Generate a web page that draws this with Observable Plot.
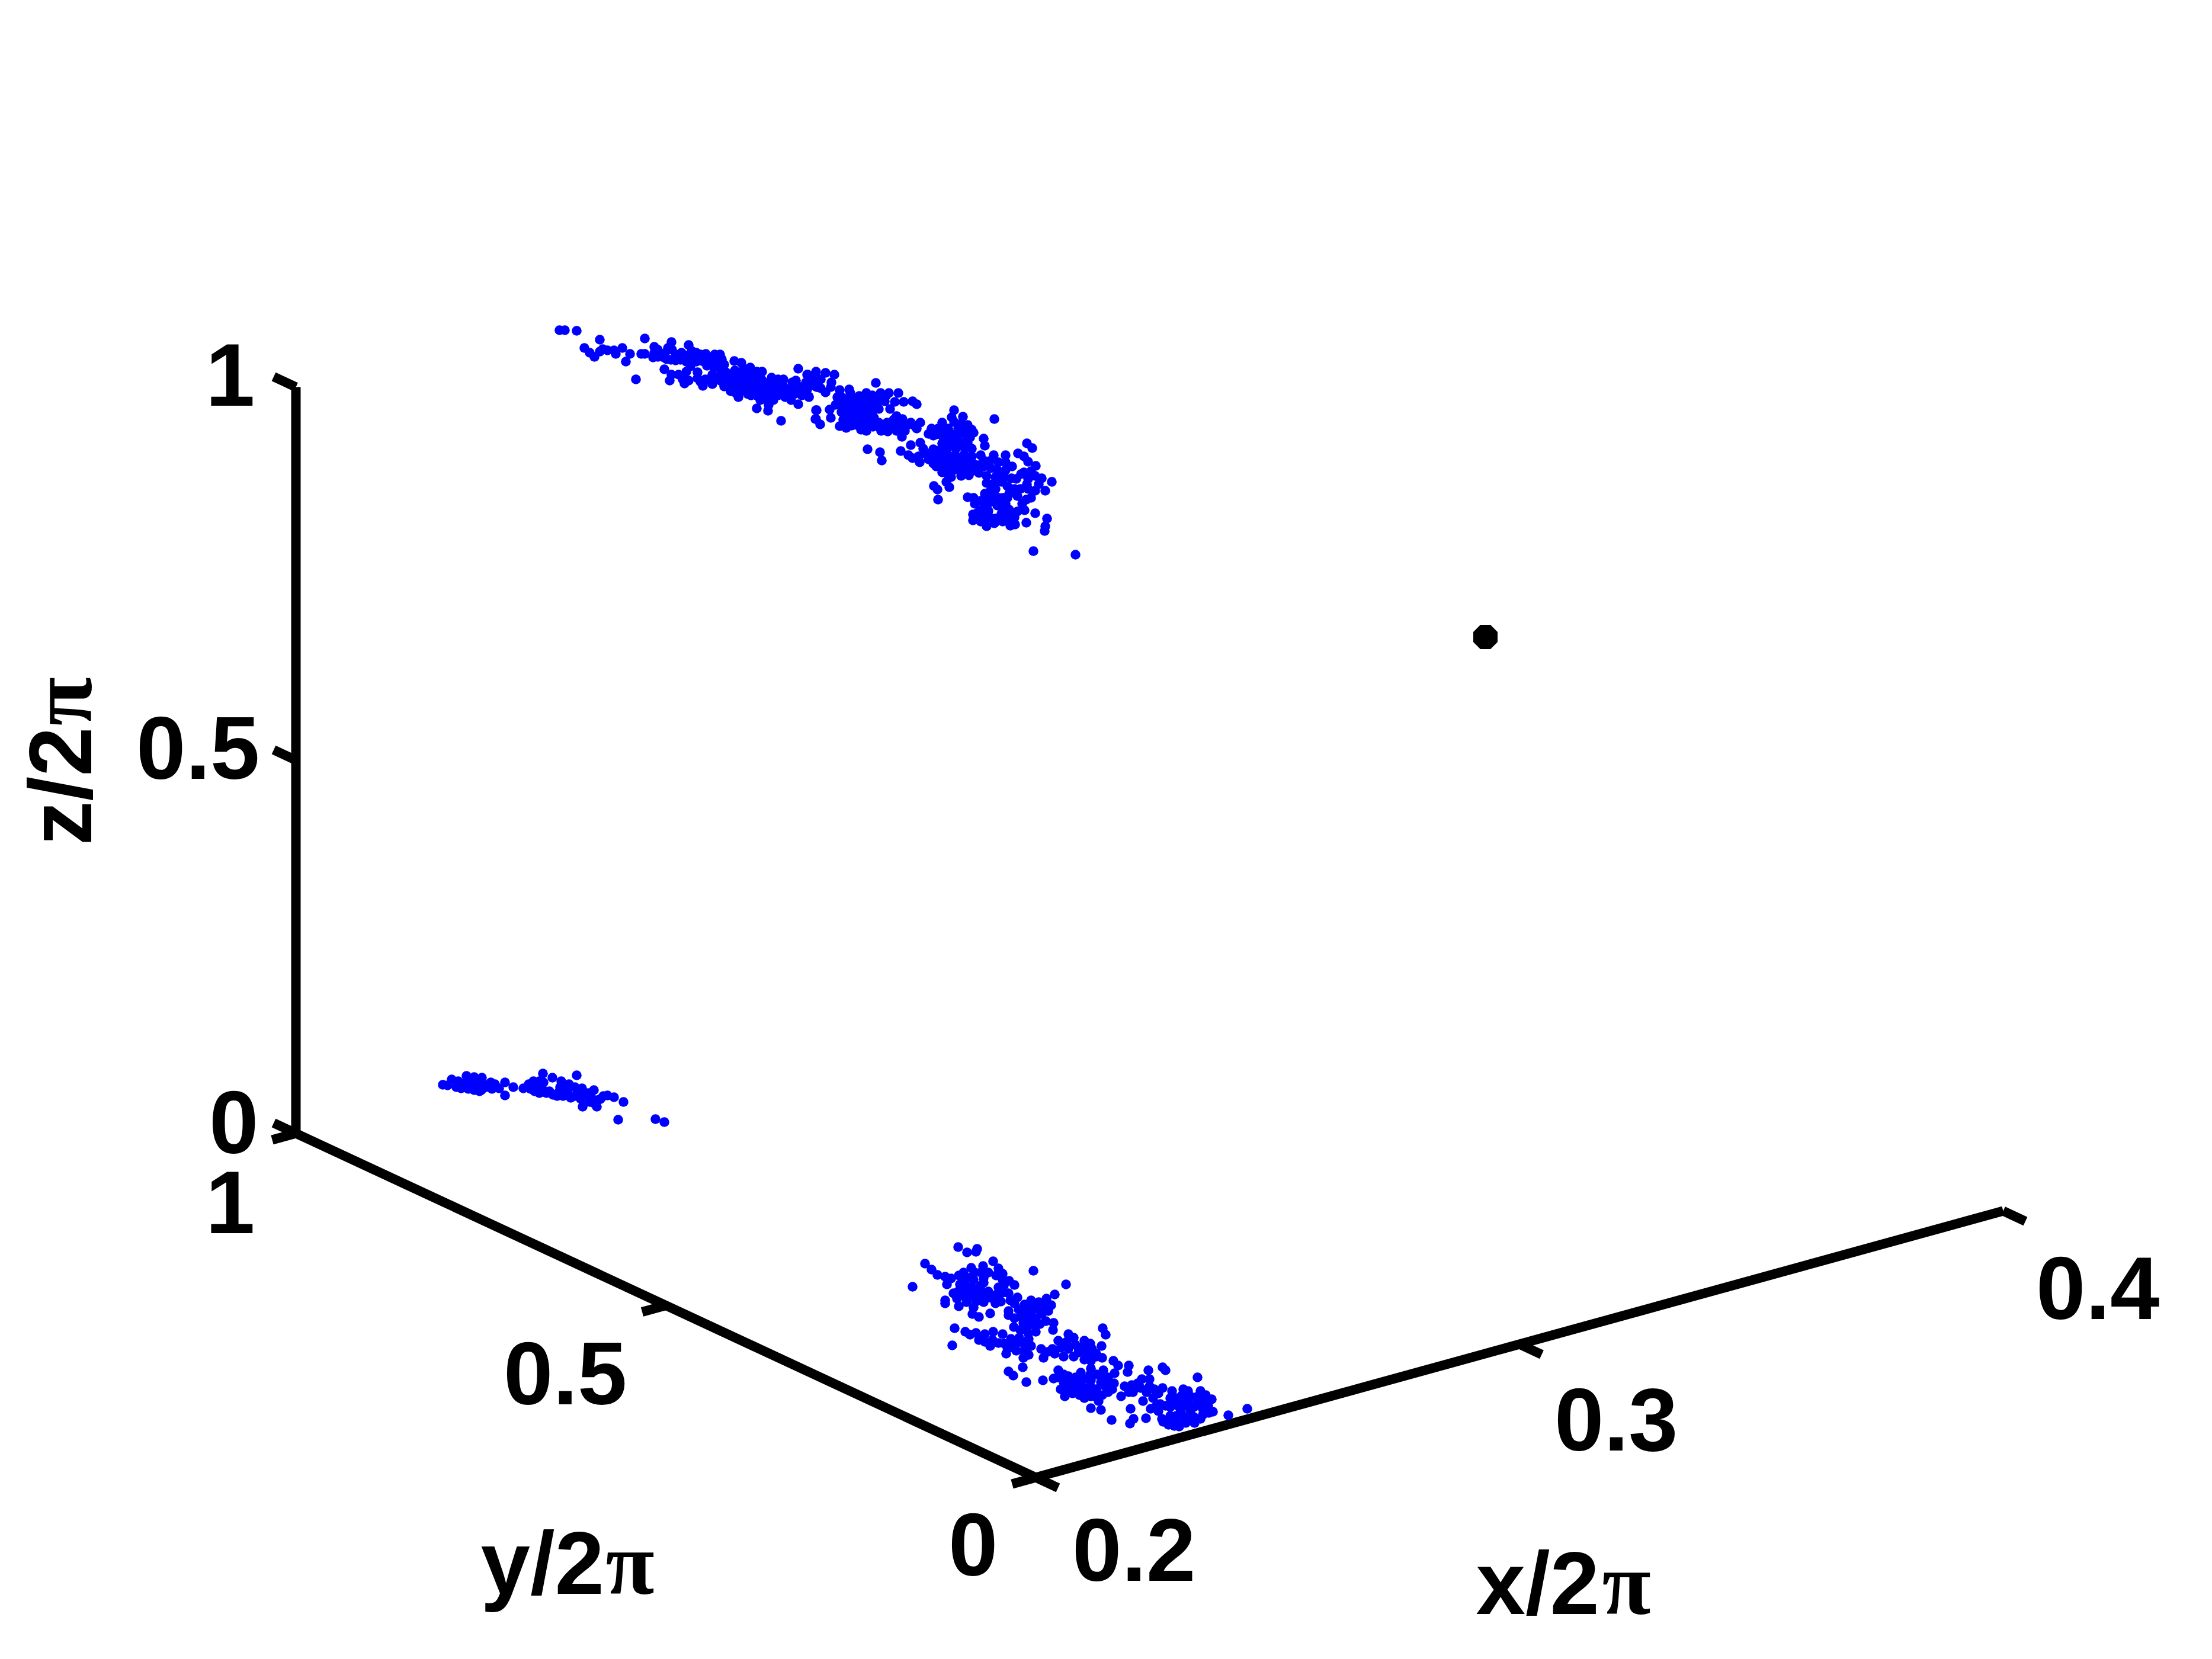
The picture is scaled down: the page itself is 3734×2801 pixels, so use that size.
<!DOCTYPE html>
<html>
<head>
<meta charset="utf-8">
<script src="https://cdn.jsdelivr.net/npm/d3@7"></script>
<script src="https://cdn.jsdelivr.net/npm/@observablehq/plot@0.6"></script>
<style>html,body{margin:0;padding:0;background:#fff}svg{display:block}</style>
</head>
<body>
<div id="chart"></div>
<script>
// Axis tick values
const xTicks = [0.2, 0.3, 0.4];
const yTicks = [0, 0.5, 1];
const zTicks = [0, 0.5, 1];
const yTickLabels = ["0", "0.5", "1"];
const zTickLabels = ["0", "0.5", "1"];
const xTickLabels = ["0.2", "0.3", "0.4"];

// Points, already projected to the view plane [h, v]
const upperStreak = [
[944,557],[953,557],[973,558],[1012,573],[1088,571],[986,587],[995,595],[1003,602],[1012,593],[1017,589],[1025,591],[1036,591],[1039,597],[1050,587],[1063,597],[1056,610],[1082,597],[1088,597],[1073,640],[1121,623],[1130,642],[1133,632],[1145,632],[1152,640],[1155,647],[1162,642],[1158,627],[1165,618],[1104,585],[1102,603],[1104,595],[1113,600],[1120,603],[1127,587],[1133,577],[1132,607],[1140,600],[1148,607],[1150,595],[1162,582],[1167,592],[1167,607],[1175,595],[1183,607],[1191,597],[1205,605],[1215,598],[1222,615],[1213,620],[1239,609],[1251,612],[1266,620],[1277,627],[1286,627],[1302,637],[1313,640],[1322,652],[1337,645],[1343,642],[1352,655],[1347,622],[1362,632],[1377,627],[1370,650],[1378,653],[1365,669],[1347,682],[1335,675],[1313,667],[1297,683],[1296,693],[1277,689],[1318,710],[1377,692],[1376,707],[1267,667],[1246,670],[1233,660],[1243,658],[1222,652],[1202,648],[1186,651],[1177,638],[1177,628],[1190,640],[1202,632],[1215,633],[1228,637],[1233,632],[1250,633],[1258,630],[1263,643],[1277,643],[1250,648],[1233,648],[1217,643],[1290,652],[1303,653],[1287,663],[1327,660],[1350,663],[1193,617],[1205,620],[1187,610],[1270,635],[1293,660],[1257,657],[1207,613],
[1363,632],[1393,629],[1408,632],[1478,646],[1380,653],[1393,662],[1403,645],[1402,653],[1355,657],[1365,670],[1353,667],[1417,658],[1433,657],[1435,663],[1378,692],[1377,707],[1384,716],[1402,705],[1400,691],[1410,683],[1413,670],[1427,673],[1462,663],[1472,667],[1486,663],[1500,663],[1516,663],[1525,678],[1540,677],[1547,682],[1510,678],[1502,690],[1493,677],[1480,678],[1463,680],[1447,677],[1425,700],[1437,690],[1450,693],[1463,697],[1477,690],[1417,719],[1428,722],[1440,717],[1453,725],[1462,727],[1473,720],[1487,727],[1498,728],[1513,727],[1522,737],[1527,727],[1547,723],[1553,713],[1537,713],[1523,707],[1513,702],[1497,713],[1483,713],[1467,710],[1450,710],[1433,710],[1423,708],[1507,717],
[1610,692],[1606,704],[1625,703],[1590,713],[1633,717],[1643,730],[1660,740],[1662,752],[1572,723],[1567,732],[1583,723],[1600,723],[1617,723],[1630,733],[1678,707],[1553,747],[1537,751],[1520,761],[1533,768],[1540,773],[1552,780],[1567,775],[1558,757],[1575,758],[1590,748],[1580,733],[1603,740],[1617,743],[1633,747],[1640,757],[1640,770],[1627,767],[1613,757],[1597,760],[1583,770],[1580,787],[1590,797],[1605,797],[1622,803],[1635,802],[1652,798],[1665,803],[1627,787],[1610,780],[1597,780],[1643,783],[1660,777],[1677,768],[1697,768],[1697,780],[1464,758],[1485,763],[1488,777],[1576,820],[1582,826],[1597,813],[1602,822],[1583,843],
[1733,748],[1742,756],[1718,765],[1728,770],[1735,779],[1748,786],[1708,787],[1697,793],[1683,793],[1747,803],[1758,807],[1775,813],[1764,828],[1747,828],[1732,843],[1717,837],[1703,833],[1690,813],[1707,807],[1723,800],[1728,797],[1733,817],[1753,817],[1675,817],[1670,830],[1662,833],[1633,839],[1643,840],[1645,850],[1677,837],[1693,840],[1697,850],[1683,853],[1667,850],[1657,860],[1642,868],[1642,878],[1665,888],[1678,883],[1670,873],[1690,867],[1703,860],[1717,863],[1729,861],[1747,866],[1732,882],[1705,887],[1713,885],[1703,873],[1767,875],[1764,888],[1763,896],[1744,930],[1815,936]
];
const upperStreakDense = [
[1110,590],[1122,596],[1134,590],[1146,598],[1158,600],[1170,600],[1182,598],[1194,604],[1206,598],[1218,606],[1110,602],[1125,606],[1140,608],[1158,610],[1175,610],[1198,612],[1210,610],
[1225,628],[1240,625],[1255,622],[1268,628],[1240,640],[1255,640],[1268,645],[1285,640],[1297,645],[1310,650],[1322,640],[1335,655],[1345,650],[1360,645],[1372,640],[1385,640],[1385,655],[1362,657],[1340,665],[1325,670],[1310,660],[1298,668],[1280,655],[1270,655],[1262,665],[1250,660],[1238,652],[1225,645],[1210,640],[1198,642],[1182,644],[1240,662],[1278,668],[1290,672],[1305,675],[1320,665],[1283,675],
[1420,670],[1435,672],[1450,668],[1420,682],[1432,682],[1445,685],[1458,672],[1470,676],[1470,688],[1483,668],[1483,690],[1495,668],[1424,692],[1435,700],[1448,702],[1460,705],[1472,700],[1425,712],[1437,718],[1448,718],[1460,716],[1472,712],[1485,722],[1495,720],[1508,708],[1520,717],[1530,718],[1543,718],[1420,695],
[1430,690],[1440,680],[1455,685],[1465,690],[1440,705],[1455,712],[1475,705],[1510,715],[1500,720],[1445,672],[1460,670],
[1595,725],[1610,712],[1622,715],[1640,725],[1575,735],[1590,735],[1605,732],[1618,732],[1630,745],[1610,745],[1605,750],[1622,752],[1637,738],[1570,765],[1585,760],[1600,768],[1612,768],[1625,775],[1638,775],[1590,770],[1575,782],[1588,787],[1600,790],[1615,792],[1630,795],[1645,792],[1658,788],[1672,790],[1685,780],[1670,778],[1655,768],[1550,770],[1560,765],[1605,805],[1640,795],[1625,795],
[1598,735],[1612,735],[1625,728],[1590,725],[1600,750],[1628,755],[1590,780],[1610,770],[1620,783],[1635,785],[1600,800],[1650,785],[1575,770],
[1695,805],[1680,805],[1665,815],[1700,820],[1715,808],[1722,825],[1735,825],[1680,825],[1668,842],[1655,845],[1680,848],[1735,808],[1668,862],[1655,872],[1690,855],[1700,873],[1712,873],[1655,880],[1692,880],
[1690,800],[1712,825],[1740,795],[1740,840],[1725,850],[1700,840],[1685,840],[1660,845],[1650,865],[1665,870],[1710,872],[1660,880],[1680,875]
];
const lowerLeftStreak = [
[747,1831],[755,1832],[762,1822],[773,1825],[778,1837],[787,1816],[800,1818],[813,1819],[792,1830],[803,1833],[809,1842],[820,1835],[828,1827],[835,1830],[842,1837],[852,1827],[866,1835],[852,1849],[883,1837],[892,1830],[900,1825],[902,1842],[916,1812],[932,1819],[947,1825],[917,1827],[922,1845],[933,1848],[953,1837],[943,1843],[963,1853],[970,1835],[982,1837],[973,1815],[973,1847],[987,1848],[1002,1840],[983,1868],[1007,1868],[1008,1857],[1013,1855],[1025,1849],[1036,1852],[1052,1860],[1043,1890],[1106,1889],[1121,1894],[910,1835],[927,1842],[998,1853],
[770,1835],[785,1828],[797,1822],[808,1826],[790,1838],[800,1840],[815,1830],[812,1840],[895,1838],[910,1825],[910,1845],[945,1835],[958,1845],[970,1850],[950,1850],[983,1845],[993,1845],[1000,1857],[1018,1850],[980,1855],[995,1860],[1002,1862],[960,1830],[940,1850],[905,1835],[915,1838],[830,1838]
];
const bottomCloud = [
[1617,2105],[1632,2114],[1647,2113],[1649,2108],[1561,2133],[1572,2143],[1582,2152],[1595,2155],[1605,2158],[1598,2168],[1540,2172],[1676,2129],[1659,2137],[1685,2141],[1639,2140],[1626,2148],[1618,2153],[1681,2153],[1703,2162],[1712,2169],[1744,2145],[1799,2168],[1780,2185],[1766,2192],[1774,2203],[1740,2195],[1753,2198],[1729,2202],[1717,2190],[1595,2195],[1595,2200],[1609,2183],[1618,2205],[1631,2198],[1643,2207],[1641,2218],[1652,2223],[1671,2217],[1647,2197],[1626,2187],[1626,2167],[1643,2160],[1660,2157],[1647,2177],[1668,2180],[1685,2173],[1694,2170],[1702,2183],[1689,2197],[1677,2193],[1702,2220],[1719,2210],[1736,2217],[1753,2210],[1769,2213],[1765,2230],[1778,2233],[1777,2245],[1748,2248],[1711,2240],[1727,2233],[1702,2213],[1736,2237],
[1611,2242],[1629,2248],[1637,2253],[1647,2250],[1662,2252],[1676,2248],[1652,2262],[1671,2272],[1662,2265],[1692,2252],[1685,2267],[1698,2285],[1715,2280],[1727,2292],[1736,2287],[1719,2263],[1706,2260],[1736,2260],[1757,2277],[1761,2292],[1776,2277],[1786,2263],[1803,2252],[1812,2258],[1830,2263],[1803,2277],[1795,2290],[1820,2283],[1843,2277],[1859,2272],[1860,2292],[1841,2297],[1861,2242],[1866,2253],[1607,2271],
[1702,2315],[1710,2322],[1726,2308],[1732,2333],[1760,2330],[1778,2327],[1786,2313],[1795,2333],[1797,2357],[1822,2355],[1816,2337],[1803,2323],[1824,2317],[1841,2310],[1862,2313],[1879,2297],[1887,2305],[1881,2318],[1905,2305],[1903,2316],[1938,2313],[1962,2308],[1967,2313],[2021,2325],[1841,2330],[1858,2333],[1877,2345],[1841,2357],[1841,2377],[1858,2380],[1854,2365],[1892,2357],[1898,2340],[1910,2338],[1927,2328],[1940,2328],[1925,2343],[1929,2365],[1948,2345],[1962,2343],[1946,2360],[1978,2348],[1997,2345],[2005,2348],[2026,2348],[2045,2362],[2047,2383],[2026,2395],[2016,2402],[2001,2402],[1982,2407],[1982,2400],[1963,2400],[1961,2395],[1934,2394],[1942,2378],[1967,2373],[1988,2360],[2005,2367],[2026,2367],[2039,2373],[1993,2383],[2009,2380],[1984,2370],[1908,2378],[1913,2395],[1907,2403],[1876,2397],[2073,2389],[2105,2378],[1795,2347],[1820,2327],[1837,2347]
];
const bottomCloudDense = [
[1630,2158],[1645,2148],[1655,2148],[1668,2148],[1632,2172],[1640,2172],[1655,2170],[1660,2165],[1620,2168],[1617,2180],[1635,2188],[1645,2190],[1658,2187],[1670,2190],[1682,2185],[1692,2182],[1705,2195],[1712,2200],[1660,2198],[1692,2160],[1692,2150],[1655,2180],[1615,2192],
[1640,2180],[1625,2178],[1640,2155],[1665,2190],[1680,2200],
[1725,2212],[1735,2205],[1745,2205],[1760,2205],[1712,2225],[1722,2222],[1735,2227],[1748,2225],[1758,2218],[1722,2245],[1735,2250],[1720,2258],[1745,2235],[1755,2235],[1730,2240],[1740,2215],[1730,2218],
[1675,2262],[1695,2268],[1705,2272],[1715,2268],[1728,2268],[1740,2272],[1728,2280],[1700,2275],[1768,2282],[1780,2285],[1790,2275],[1800,2265],[1815,2270],[1828,2275],[1840,2268],[1835,2285],[1850,2285],[1830,2295],[1812,2290],[1710,2275],[1820,2275],[1850,2290],
[1795,2320],[1810,2335],[1830,2328],[1850,2320],[1870,2325],[1790,2345],[1805,2345],[1825,2340],[1850,2345],[1865,2340],[1880,2335],[1840,2320],[1815,2325],[1860,2355],[1830,2360],[1850,2358],[1870,2350],[1810,2352],[1800,2335],[1820,2345],[1830,2350],[1840,2340],[1870,2335],[1860,2325],[1785,2325],
[1912,2350],[1905,2350],[1935,2350],[1920,2335],[1940,2340],[1955,2352],
[1975,2360],[1975,2375],[1975,2390],[1995,2355],[2010,2358],[2020,2358],[2035,2355],[2035,2365],[1958,2370],[1950,2375],[1998,2372],[2015,2375],[2030,2378],[1985,2390],[2000,2392],[2015,2392],[2030,2388],[2040,2385],[1995,2402],[2010,2398],[1955,2382],[1972,2405],[1990,2408],[1990,2375],[2000,2365],[2020,2370],[2010,2388]
];
const blackPoint = [[2507,1075]];

// Orthographic view of the box: origin corner and one vector per data axis
const corner = {h: 1748, v: 2494, x0: 0.2};
const xDir = {h: 8165, v: -2250};
const yDir = {h: -1249, v: -581};
const zDir = {h: 0, v: -1260};
const proj = (x, y, z) => ({
  h: corner.h + (x - corner.x0) * xDir.h + y * yDir.h + z * zDir.h,
  v: corner.v + (x - corner.x0) * xDir.v + y * yDir.v + z * zDir.v
});
const seg = (a, b) => ({h1: a.h, v1: a.v, h2: b.h, v2: b.v});

const xTickSegs = xTicks.map(t => seg(proj(t, 0, 0), proj(t, -0.03, 0)));
const yTickSegs = yTicks.map(t => seg(proj(0.2, t, 0), proj(0.2 - 0.0049, t, 0)));
const zTickSegs = zTicks.map(t => seg(proj(0.2, 1, t), proj(0.2, 1.03, t)));
const axes = [
  seg(proj(0.2, 0, 0), proj(0.4, 0, 0)),
  seg(proj(0.2, 0, 0), proj(0.2, 1, 0)),
  seg(proj(0.2, 1, 0), proj(0.2, 1, 1))
];

// Label anchors on the view plane: text, right edge, baseline
const tickLabels = [
  {t: zTickLabels[2], h: 430, v: 684},
  {t: zTickLabels[1], h: 438, v: 1314},
  {t: zTickLabels[0], h: 436, v: 1946},
  {t: yTickLabels[2], h: 430, v: 2081},
  {t: yTickLabels[1], h: 1058, v: 2370},
  {t: yTickLabels[0], h: 1684, v: 2659},
  {t: xTickLabels[0], h: 2018, v: 2668},
  {t: xTickLabels[1], h: 2832, v: 2448},
  {t: xTickLabels[2], h: 3645, v: 2226}
];
const axisNames = [
  {t: "y/2", h: 811, v: 2690},
  {t: "x/2", h: 2491, v: 2724}
];
const piMarks = [
  {t: "π", h: 1022, v: 2690},
  {t: "π", h: 2704, v: 2724}
];

const sans = "Liberation Sans";
const serif = "Liberation Serif";
const text = {x: "h", y: "v", text: "t", fontWeight: "bold", fontSize: 150, fontFamily: sans, fill: "black", lineAnchor: "bottom"};
const blue = "#0000ff";

// The black marker is a small octagon in the reference
const octagon = {
  draw(ctx, size) {
    const a = Math.sqrt(size / Math.PI), R = a / Math.cos(Math.PI / 8);
    for (let i = 0; i < 8; i++) {
      const t = Math.PI / 8 + i * Math.PI / 4;
      if (i === 0) ctx.moveTo(R * Math.cos(t), R * Math.sin(t));
      else ctx.lineTo(R * Math.cos(t), R * Math.sin(t));
    }
    ctx.closePath();
  }
};

const blueDots = pts => Plot.dot(pts, {x: d => d[0], y: d => d[1], r: 8.3, fill: blue, stroke: "none"});

const chart = Plot.plot({
  width: 3734, height: 2801,
  marginTop: 0, marginRight: 0, marginBottom: 0, marginLeft: 0,
  x: {domain: [0, 3734], axis: null},
  y: {domain: [2801, 0], axis: null},
  style: {background: "white"},
  marks: [
    Plot.link(axes, {x1: "h1", y1: "v1", x2: "h2", y2: "v2", stroke: "black", strokeWidth: 16, strokeLinecap: "butt"}),
    Plot.link([...xTickSegs, ...yTickSegs, ...zTickSegs], {x1: "h1", y1: "v1", x2: "h2", y2: "v2", stroke: "black", strokeWidth: 16, strokeLinecap: "butt"}),
    blueDots(upperStreak),
    blueDots(upperStreakDense),
    blueDots(lowerLeftStreak),
    blueDots(bottomCloud),
    blueDots(bottomCloudDense),
    Plot.dot(blackPoint, {x: d => d[0], y: d => d[1], r: 20.5, symbol: octagon, fill: "black", stroke: "none"}),
    Plot.text(tickLabels, {...text, textAnchor: "end"}),
    Plot.text(axisNames, {...text, textAnchor: "start"}),
    Plot.text(piMarks, {...text, textAnchor: "start", fontFamily: serif}),
    Plot.text([{t: "z/2", h: 153, v: 1427}], {...text, textAnchor: "start", rotate: -90}),
    Plot.text([{t: "π", h: 153, v: 1225}], {...text, textAnchor: "start", rotate: -90, fontFamily: serif})
  ]
});
document.getElementById("chart").appendChild(chart);
</script>
</body>
</html>
